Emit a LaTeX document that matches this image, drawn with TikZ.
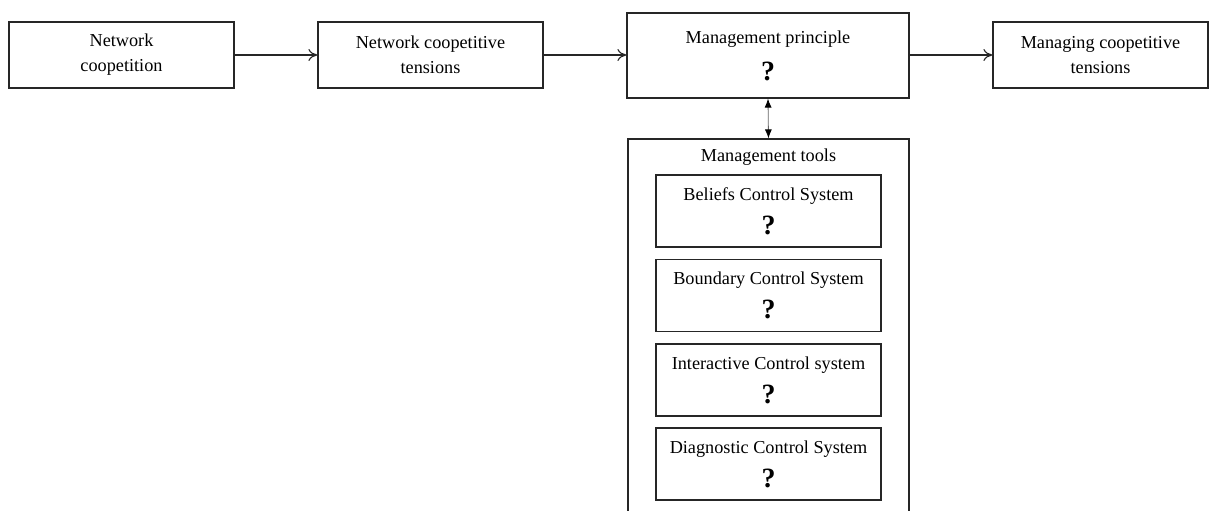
\documentclass[tikz,border=0pt]{standalone}
\usepackage{fontspec}
\setmainfont{Liberation Serif}
\usetikzlibrary{arrows.meta}
\newcommand{\qm}{{\fontsize{28}{28}\selectfont\bfseries ?}}
\tikzset{
  box/.style={draw=black!85, line width=1.2bp, align=center, inner sep=0pt,
    font=\fontsize{18.3}{25}\selectfont},
  flow/.style={-{To[length=9bp,width=12bp,line width=1.1bp]}, line width=1.1bp, draw=black!85},
  link/.style={{Latex[length=9bp,width=7bp,black]}-{Latex[length=9bp,width=7bp,black]}, line width=0.8bp, draw=black!60}
}
\begin{document}
\begin{tikzpicture}[x=1bp,y=-1bp]
\clip (0,0) rectangle (1216,511);
\node[box, minimum width=225bp, minimum height=66bp] (b1) at (121.5,55) {Network\\coopetition};
\node[box, minimum width=225bp, minimum height=66bp] (b2) at (430.5,55) {Network coopetitive\\tensions};
\node[box, minimum width=282bp, minimum height=85bp] (b3) at (768,55.5) {Management principle\\[12bp]\qm};
\node[box, minimum width=215bp, minimum height=66bp] (b4) at (1100.5,55) {Managing coopetitive\\tensions};
\node[box, minimum width=281bp, minimum height=400bp] (tools) at (768.5,339) {};
\node[font=\fontsize{18.3}{25}\selectfont, inner sep=0pt] (tl) at (768.5,157) {Management tools};
\node[box, minimum width=225bp, minimum height=72bp] (c1) at (768.5,211) {Beliefs Control System\\[9bp]\qm};
\node[box, minimum width=225bp, minimum height=72bp] (c2) at (768.5,295.5) {Boundary Control System\\[9bp]\qm};
\node[box, minimum width=225bp, minimum height=72bp] (c3) at (768.5,380) {Interactive Control system\\[9bp]\qm};
\node[box, minimum width=225bp, minimum height=72bp] (c4) at (768.5,464) {Diagnostic Control System\\[9bp]\qm};
\draw[flow] (b1.east) -- (b2.west);
\draw[flow] (b2.east) -- (b3.west |- b2.east);
\draw[flow] (b3.east |- b4.west) -- (b4.west);
\draw[link] (b3.south) -- (tools.north);
\end{tikzpicture}
\end{document}
